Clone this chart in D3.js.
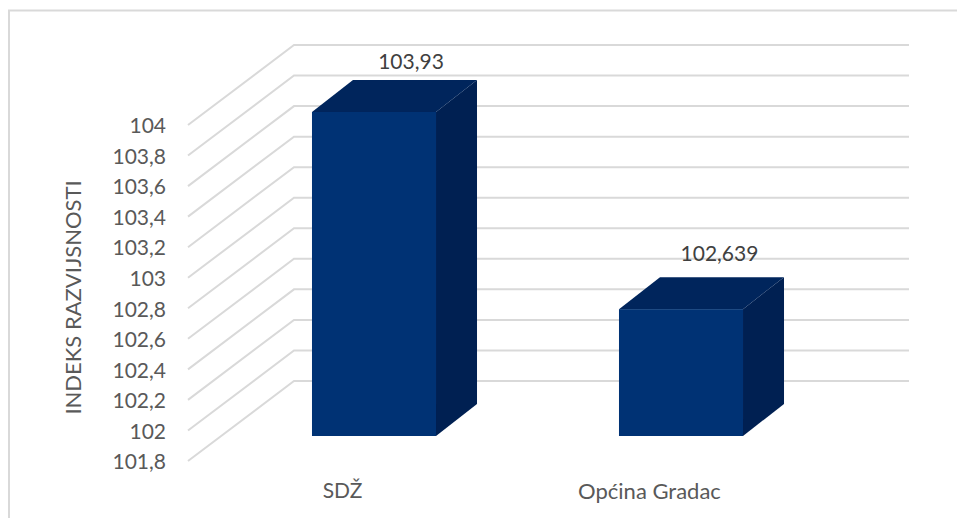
<!DOCTYPE html>
<html>
<head>
<meta charset="utf-8">
<script src="https://cdn.jsdelivr.net/npm/d3@7"></script>
<style>
  html, body { margin: 0; padding: 0; background: #fff; }
  svg { display: block; }
  text { font-family: Lato, "Open Sans", sans-serif; }
</style>
</head>
<body>
<svg id="chart" width="957" height="518"></svg>
<script>
const categories = ['SDŽ', 'Općina Gradac']
const values = [103.93, 102.639]
const value_labels = ['103,93', '102,639']
const tick_values = [101.8, 102, 102.2, 102.4, 102.6, 102.8, 103, 103.2, 103.4, 103.6, 103.8, 104]
const axis_title = 'INDEKS RAZVIJSNOSTI'

const width = 957
const height = 518
const wall_left = 294
const wall_right = 909

const svg = d3.select('#chart')

// back wall scale, the other planes are shifted from it
const y = d3.scaleLinear().domain([101.8, 104]).range([381, 45])
const axis_shift = { x: -106, y: 80 }
const bar_shift = 56.3
const depth = { x: 41, y: -32 }

const x = d3.scaleBand()
    .domain(categories)
    .range([220.5, 834.5])
    .paddingInner(0.596)
    .paddingOuter(0.298)

// chart frame, only top and left are visible
svg.append('path')
    .attr('d', `M9,${height}V10.5H${width}`)
    .attr('fill', 'none')
    .attr('stroke', '#d9d9d9')
    .attr('stroke-width', 2)

// grid
const grid = svg.append('g').attr('fill', 'none').attr('stroke', '#d9d9d9').attr('stroke-width', 2)
grid.selectAll('path')
    .data(tick_values)
    .enter()
    .append('path')
    .attr('d', d => `M${wall_left + axis_shift.x},${y(d) + axis_shift.y}L${wall_left},${y(d)}H${wall_right}`)

// value axis
const y_front = y.copy().range(y.range().map(d => d + axis_shift.y))
const y_axis = svg.append('g')
    .attr('transform', 'translate(173,1)')
    .call(d3.axisLeft(y_front)
        .tickValues(tick_values)
        .tickSize(0)
        .tickPadding(7)
        .tickFormat(d => String(d).replace('.', ',')))
y_axis.select('.domain').remove()
y_axis.selectAll('text')
    .attr('fill', '#595959')
    .attr('font-size', 21)

svg.append('text')
    .attr('transform', 'translate(72,297.5) rotate(-90)')
    .attr('text-anchor', 'middle')
    .attr('dominant-baseline', 'central')
    .attr('fill', '#595959')
    .attr('font-size', 22)
    .text(axis_title)

// bars
const bars = svg.selectAll('g.bar')
    .data(categories.map((name, i) => ({ name, value: values[i], label: value_labels[i], i })))
    .enter()
    .append('g')
    .classed('bar', true)

const bar_left = d => x(d.name)
const bar_right = d => x(d.name) + x.bandwidth()
const bar_top = d => y(d.value) + bar_shift
const bar_base = y(101.8) + 55

bars.append('polygon')
    .attr('fill', '#002052')
    .attr('points', d => [
        [bar_right(d), bar_top(d)],
        [bar_right(d) + depth.x, bar_top(d) + depth.y],
        [bar_right(d) + depth.x, bar_base + depth.y],
        [bar_right(d), bar_base]
    ].join(' '))

bars.append('polygon')
    .attr('fill', '#00255c')
    .attr('points', d => [
        [bar_left(d), bar_top(d)],
        [bar_left(d) + depth.x, bar_top(d) + depth.y],
        [bar_right(d) + depth.x, bar_top(d) + depth.y],
        [bar_right(d), bar_top(d)]
    ].join(' '))

bars.append('rect')
    .attr('fill', '#003274')
    .attr('x', bar_left)
    .attr('y', bar_top)
    .attr('width', x.bandwidth())
    .attr('height', d => bar_base - bar_top(d))

// value labels sit above the bar's back edge, not by the same gap
bars.append('text')
    .attr('x', d => bar_left(d) + x.bandwidth() / 2 + (d.i ? 38.5 : 37))
    .attr('y', d => bar_top(d) + depth.y - (d.i ? 25 : 19.5))
    .attr('text-anchor', 'middle')
    .attr('dominant-baseline', 'central')
    .attr('fill', '#404040')
    .attr('font-size', 21)
    .text(d => d.label)

// category axis
const x_axis = svg.append('g')
    .attr('transform', 'translate(-31.5,476)')
    .call(d3.axisBottom(x).tickSize(0).tickPadding(7))
x_axis.select('.domain').remove()
x_axis.selectAll('text')
    .attr('fill', '#595959')
    .attr('font-size', 21)
x_axis.selectAll('.tick:last-of-type text').attr('font-size', 22)
</script>
</body>
</html>
